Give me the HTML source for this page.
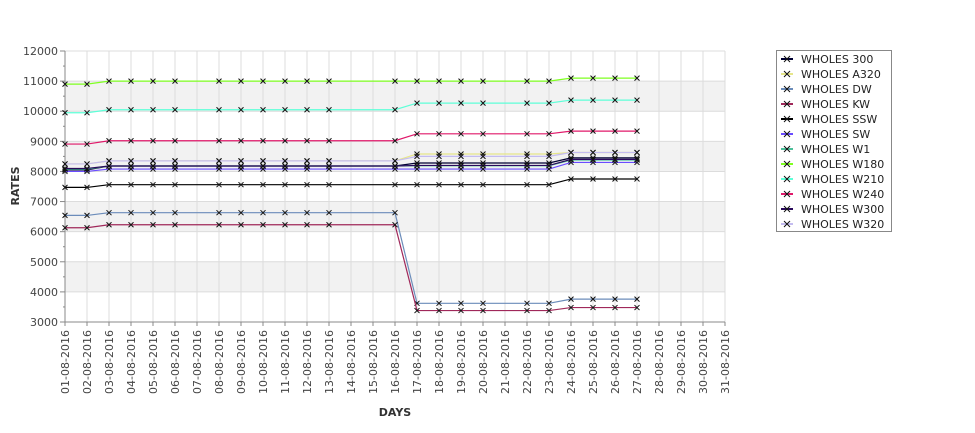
<!DOCTYPE html>
<html><head><meta charset="utf-8"><style>
body{margin:0;background:#fff;width:975px;height:429px;overflow:hidden;font-family:"DejaVu Sans","Liberation Sans",sans-serif}
svg text{font-family:"DejaVu Sans","Liberation Sans",sans-serif;fill:#444}
</style></head><body>
<svg id="chart" width="975" height="429" xmlns="http://www.w3.org/2000/svg">
<g id="bands"></g><g id="grid"></g><g id="axes"></g><g id="series"></g><g id="legend"></g>
<text transform="translate(19,186) rotate(-90)" text-anchor="middle" font-size="11" font-weight="bold" style="fill:#333">RATES</text>
<text x="395" y="416" text-anchor="middle" font-size="11" font-weight="bold" style="fill:#333">DAYS</text>
</svg>
<script>
const days = ["01","02","03","04","05","06","07","08","09","10","11","12","13","14","15","16","17","18","19","20","21","22","23","24","25","26","27","28","29","30","31"];
const dataDays = [1,2,3,4,5,6,8,9,10,11,12,13,16,17,18,19,20,22,23,24,25,26,27];
const yTicks = [3000,4000,5000,6000,7000,8000,9000,10000,11000,12000];
const seriesNames = ["WHOLES 300","WHOLES A320","WHOLES DW","WHOLES KW","WHOLES SSW","WHOLES SW","WHOLES W1","WHOLES W180","WHOLES W210","WHOLES W240","WHOLES W300","WHOLES W320"];
const seriesColors = ["#000033","#e6e68a","#6b8cba","#a0285a","#000000","#6a4cff","#4cbf9a","#7fff20","#5effd8","#e0186a","#2a0a5c","#c4bcf0"];
// period values: days1-2, days3-16, days17-23, days24-27
const v300  = [8050,8180,8280,8450];
const vA320 = [8250,8350,8580,8630];
const vDW   = [6540,6630,3620,3760];
const vKW   = [6130,6230,3380,3480];
const vSSW  = [7470,7560,7560,7750];
const vSW   = [8000,8080,8080,8300];
const vW1   = [8080,8180,8190,8380];
const vW180 = [10900,11000,11000,11100];
const vW210 = [9950,10050,10270,10370];
const vW240 = [8910,9020,9250,9340];
const vW300 = [8100,8180,8200,8400];
const vW320 = [8250,8350,8500,8630];
const seriesVals = [v300,vA320,vDW,vKW,vSSW,vSW,vW1,vW180,vW210,vW240,vW300,vW320];

const NS="http://www.w3.org/2000/svg";
const X0=65, DX=22, Y0=322, YPX=30.11;
const xS=d=>X0+(d-1)*DX;
const yS=v=>Y0-(v-3000)/1000*YPX;
function el(p,tag,a){const e=document.createElementNS(NS,tag);for(const k in a)e.setAttribute(k,a[k]);p.appendChild(e);return e;}
const bands=document.getElementById('bands'),grid=document.getElementById('grid'),axes=document.getElementById('axes'),ser=document.getElementById('series'),leg=document.getElementById('legend');
[[10000,11000],[8000,9000],[6000,7000],[4000,5000]].forEach(b=>{
  const r=el(bands,'rect',{x:X0,y:yS(b[1]),width:xS(31)-X0,height:yS(b[0])-yS(b[1]),fill:'#f2f2f2'});
  
  
});
yTicks.forEach(v=>{
  const l=el(grid,'line',{x1:X0,x2:xS(31),y1:yS(v),y2:yS(v),stroke:'#dcdcdc'});
  
  
  const t=el(axes,'line',{x1:X0-5,x2:X0,y1:yS(v),y2:yS(v),stroke:'#888'});
  
  
  const tx=el(axes,'text',{x:X0-7,y:yS(v)+4,'text-anchor':'end','font-size':'11'});
  tx.textContent=v;
  
  
  if(v<12000){const m=el(axes,'line',{x1:X0-2,x2:X0,y1:yS(v+500),y2:yS(v+500),stroke:'#888'});
  
  }
});
days.forEach((d,i)=>{
  const x=xS(i+1);
  const g=el(grid,'line',{x1:x,x2:x,y1:yS(12000),y2:Y0,stroke:'#dcdcdc'});
  
  
  const t=el(axes,'line',{x1:x,x2:x,y1:Y0,y2:Y0+4,stroke:'#888'});
  
  
  const tx=el(axes,'text',{transform:`translate(${x+4},${Y0+8}) rotate(-90)`,'text-anchor':'end','font-size':'11'});
  tx.textContent=d+'-08-2016';
  
  
});
const ax=el(axes,'path',{d:`M${X0},${yS(12000)}V${Y0}H${xS(31)}`,fill:'none',stroke:'#888'});


function valAt(vals,d){return d<=2?vals[0]:d<=16?vals[1]:d<=23?vals[2]:vals[3];}
seriesVals.forEach((vals,si)=>{
  const g=el(ser,'g',{});
  
  
  const pts=dataDays.map(d=>xS(d)+','+yS(valAt(vals,d))).join(' ');
  const pl=el(g,'polyline',{points:pts,fill:'none',stroke:seriesColors[si],'stroke-width':'1.2'});
  
  
  dataDays.forEach(d=>{
    const x=xS(d),y=yS(valAt(vals,d));
    const m=el(g,'path',{d:`M${x-2.5},${y-2.5}L${x+2.5},${y+2.5}M${x-2.5},${y+2.5}L${x+2.5},${y-2.5}`,stroke:'#111','stroke-width':'1'});
    
    
  });
});
const box=el(leg,'rect',{x:776.5,y:50.5,width:115,height:181,fill:'#fff',stroke:'#888'});


seriesNames.forEach((n,i)=>{
  const y=59+i*15;
  const g=el(leg,'g',{});
  
  
  el(g,'line',{x1:781,x2:793,y1:y,y2:y,stroke:seriesColors[i],'stroke-width':'2'});
  el(g,'path',{d:`M${784},${y-3}L${790},${y+3}M${784},${y+3}L${790},${y-3}`,stroke:'#111'});
  const t=el(g,'text',{x:801,y:y+4,'font-size':'11',style:'fill:#222'});
  t.textContent=n;
});
</script>
</body></html>
